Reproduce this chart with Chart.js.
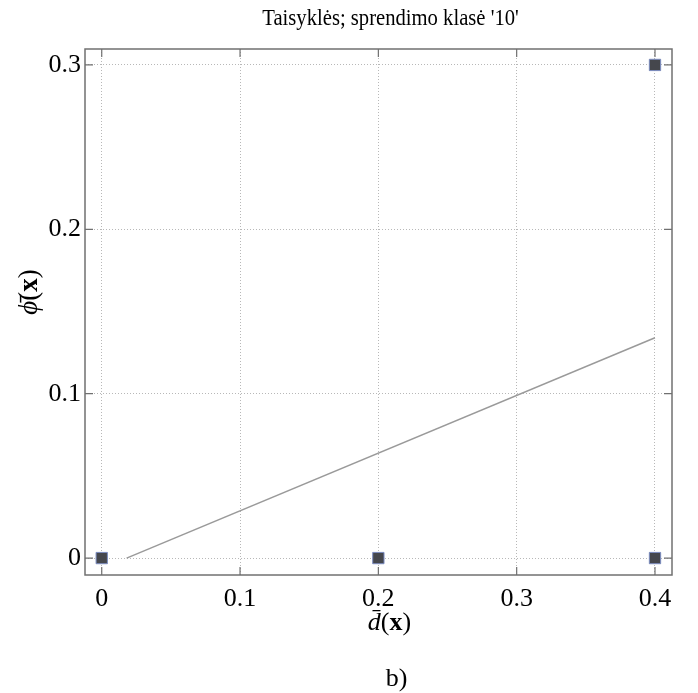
<!DOCTYPE html>
<html>
<head>
<meta charset="utf-8">
<script src="https://cdn.jsdelivr.net/npm/chart.js@4/dist/chart.umd.min.js"></script>
<style>
  html, body { margin: 0; padding: 0; background: #fff; }
  #wrap { width: 698px; height: 693px; position: relative; }
</style>
</head>
<body>
<div id="wrap"><canvas id="chart"></canvas></div>
<script>
// data
const pointX = [0, 0.2, 0.4, 0.4];
const pointY = [0, 0, 0, 0.3];
const fitX = [0.018, 0.4];
const fitY = [0, 0.134];
const xTicks = [0, 0.1, 0.2, 0.3, 0.4];
const yTicks = [0, 0.1, 0.2, 0.3];
const titleText = "Taisyklės; sprendimo klasė '10'";
const panelText = "b)";

const serif = '"Liberation Serif", "DejaVu Serif", serif';
const frameColor = "#707070";

// draws a label made of pieces with their own font, centred on cx
function drawPieces(ctx, pieces, cx, cy, sx) {
  sx = sx || 1;
  let total = 0;
  pieces.forEach(p => { ctx.font = p.font; total += ctx.measureText(p.text).width; });
  ctx.save();
  ctx.translate(cx, cy);
  ctx.scale(sx, 1);
  let x = -total / 2;
  pieces.forEach(p => {
    ctx.font = p.font;
    ctx.fillText(p.text, x, 0);
    x += ctx.measureText(p.text).width;
  });
  ctx.restore();
}

const framePlugin = {
  id: "frame",
  beforeDatasetsDraw(chart) {
    const { ctx, chartArea: a, scales } = chart;
    ctx.save();
    ctx.strokeStyle = frameColor;
    ctx.lineWidth = 1.5;
    ctx.strokeRect(a.left, a.top, a.right - a.left, a.bottom - a.top);
    ctx.lineWidth = 1.2;
    ctx.beginPath();
    xTicks.forEach(v => {
      const px = scales.x.getPixelForValue(v);
      ctx.moveTo(px, a.bottom); ctx.lineTo(px, a.bottom - 8);
      ctx.moveTo(px, a.top); ctx.lineTo(px, a.top + 8);
    });
    yTicks.forEach(v => {
      const py = scales.y.getPixelForValue(v);
      ctx.moveTo(a.left, py); ctx.lineTo(a.left + 8, py);
      ctx.moveTo(a.right, py); ctx.lineTo(a.right - 8, py);
    });
    ctx.stroke();
    ctx.restore();
  },
  afterDraw(chart) {
    const { ctx, chartArea: a } = chart;
    const cx = (a.left + a.right) / 2;
    ctx.save();
    ctx.fillStyle = "#000";
    ctx.textBaseline = "alphabetic";
    ctx.textAlign = "left";
    // title
    drawPieces(ctx, [{ text: titleText, font: "24px " + serif }], cx + 12, 25, 0.86);
    // x axis title
    drawPieces(ctx, [
      { text: "d\u0304", font: "italic 26px " + serif },
      { text: "(", font: "26px " + serif },
      { text: "x", font: "bold 26px " + serif },
      { text: ")", font: "26px " + serif }
    ], cx + 11, 630);
    // panel label
    drawPieces(ctx, [{ text: panelText, font: "26px " + serif }], cx + 18, 686);
    // y axis title, rotated
    ctx.translate(37, (a.top + a.bottom) / 2 - 20);
    ctx.rotate(-Math.PI / 2);
    drawPieces(ctx, [
      { text: "\u03d5\u0304", font: "italic 27px " + serif },
      { text: "(", font: "27px " + serif },
      { text: "x", font: "bold 27px " + serif },
      { text: ")", font: "27px " + serif }
    ], 0, 0);
    ctx.restore();
  }
};

const tickFont = { family: serif, size: 26 };

new Chart(document.getElementById("chart"), {
  type: "scatter",
  data: {
    datasets: [
      {
        type: "line",
        data: fitX.map((x, i) => ({ x, y: fitY[i] })),
        borderColor: "#9a9a9a",
        borderWidth: 1.5,
        pointRadius: 0,
        fill: false,
        clip: false
      },
      {
        data: pointX.map((x, i) => ({ x, y: pointY[i] })),
        pointStyle: "rect",
        pointRadius: 8,
        backgroundColor: "#45474d",
        borderColor: "#7b8cc0",
        borderWidth: 1,
        clip: false
      }
    ]
  },
  options: {
    responsive: true,
    maintainAspectRatio: false,
    animation: false,
    layout: { padding: { top: 49, right: 26, bottom: 0, left: 0 } },
    plugins: { legend: { display: false }, tooltip: { enabled: false } },
    scales: {
      x: {
        type: "linear",
        min: -0.0121,
        max: 0.4123,
        afterBuildTicks: s => { s.ticks = xTicks.map(v => ({ value: v })); },
        afterFit: s => { s.height = 118; },
        ticks: { font: tickFont, color: "#000", padding: 9, maxRotation: 0 },
        grid: { color: "#b8b8b8", lineWidth: 1, drawTicks: false },
        border: { display: false, dash: [1, 2] }
      },
      y: {
        type: "linear",
        min: -0.0103,
        max: 0.3097,
        afterBuildTicks: s => { s.ticks = yTicks.map(v => ({ value: v })); },
        afterFit: s => { s.width = 85; },
        ticks: { font: tickFont, color: "#000", padding: 4 },
        grid: { color: "#b8b8b8", lineWidth: 1, drawTicks: false },
        border: { display: false, dash: [1, 2] }
      }
    }
  },
  plugins: [framePlugin]
});
</script>
</body>
</html>
